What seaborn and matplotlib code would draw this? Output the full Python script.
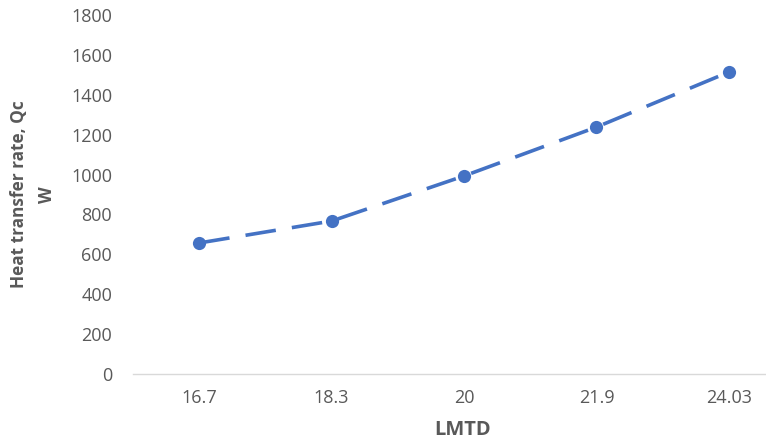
import matplotlib
matplotlib.use("Agg")
import matplotlib.pyplot as plt
import seaborn as sns
import pandas as pd

categories = ["16.7", "18.3", "20", "21.9", "24.03"]
heat_rate = [657, 767, 993, 1238, 1514]
y_ticks = [0, 200, 400, 600, 800, 1000, 1200, 1400, 1600, 1800]

sns.set_theme(style="white")
plt.rcParams['font.family'] = ['Open Sans', 'DejaVu Sans']

df = pd.DataFrame({"LMTD": categories, "Q": heat_rate})

W, H = 766, 446
L, R, B, T = 133, 766, 374, 15
fig = plt.figure(figsize=(W / 100, H / 100), dpi=100)
ax = fig.add_axes([L / W, 1 - B / H, (R - L) / W, (B - T) / H])

sns.lineplot(data=df, x="LMTD", y="Q", ax=ax, color="#4472C4", linewidth=2.6,
             marker="o", markersize=9.5, markeredgewidth=0, sort=False)
ax.lines[0].set_dashes([8.5, 4.5])

ax.set_xlim(-0.5, 4.28)
ax.set_ylim(0, 1800)
ax.set_yticks(y_ticks)
ax.set_yticklabels([str(v) for v in y_ticks])

for s in ["top", "right", "left"]:
    ax.spines[s].set_visible(False)
ax.spines["bottom"].set_color("#D9D9D9")
ax.spines["bottom"].set_linewidth(1.0)

ax.tick_params(axis="x", length=0, pad=11, labelsize=13, labelcolor="#595959")
ax.tick_params(axis="y", length=0, pad=15, labelsize=13, labelcolor="#595959")

ax.set_xlabel("LMTD", fontsize=14.5, fontweight="bold", color="#595959")
ax.xaxis.label.set_verticalalignment("center")
ax.xaxis.set_label_coords((463 - L) / (R - L), -(430 - B) / (B - T))

ax.set_ylabel("Heat transfer rate, Qc\nW", fontsize=12.4, fontweight="bold",
              color="#595959", linespacing=1.75)
ax.yaxis.label.set_verticalalignment("center")
ax.yaxis.label.set_horizontalalignment("center")
ax.yaxis.set_label_coords(-(L - 33) / (R - L), 0.5)

fig.savefig("out.png", dpi=100)
